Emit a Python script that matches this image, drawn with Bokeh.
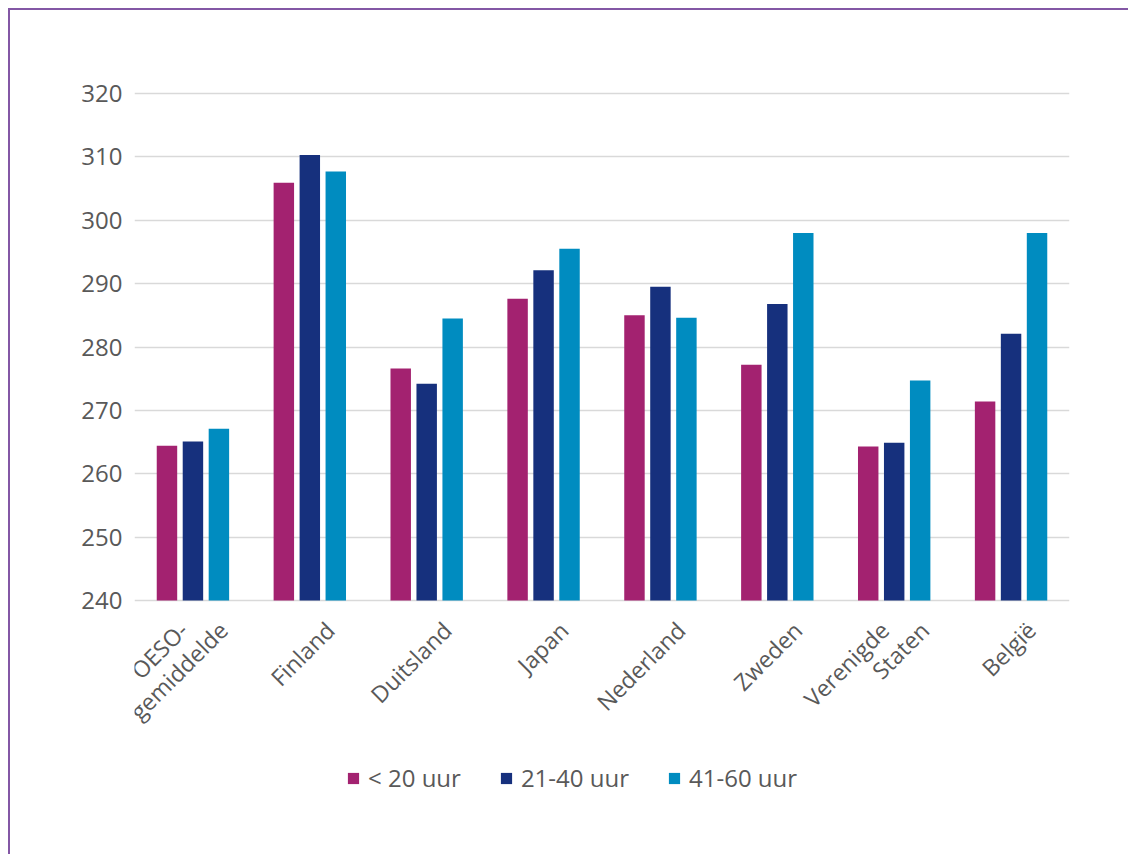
from math import pi
from bokeh.plotting import figure
from bokeh.models import ColumnDataSource, FactorRange, Range1d, Legend, LegendItem, Label, SingleIntervalTicker
from bokeh.transform import dodge
from bokeh.embed import file_html
from bokeh.resources import INLINE

categories = ["OESO-\ngemiddelde", "Finland", "Duitsland", "Japan", "Nederland", "Zweden", "Verenigde\nStaten", "België"]
series_names = ["< 20 uur", "21-40 uur", "41-60 uur"]
lt20 = [264.4, 305.9, 276.6, 287.6, 285.0, 277.2, 264.3, 271.4]
h21_40 = [265.1, 310.3, 274.2, 292.1, 289.5, 286.8, 264.9, 282.1]
h41_60 = [267.1, 307.7, 284.5, 295.5, 284.6, 298.0, 274.7, 298.0]
colors = ["#A32270", "#16307D", "#008CC0"]
y_min, y_max, y_step = 240, 320, 10

FONT = "Open Sans"
TEXT = "#595959"
GRID = "#d9d9d9"

# layout (pixels): value axis from y_min at 590px to y_max at 83px below the plot's top
PX_PER_UNIT = 507 / (y_max - y_min)
TOP_PAD_PX = 83
BOTTOM_PAD_PX = 846 - 590

src = ColumnDataSource(dict(cat=categories, a=lt20, b=h21_40, c=h41_60))

p = figure(width=1120, height=846, x_range=FactorRange(*categories, range_padding=0, factor_padding=0),
           y_range=Range1d(y_min - BOTTOM_PAD_PX / PX_PER_UNIT, y_max + TOP_PAD_PX / PX_PER_UNIT),
           x_axis_location=None, output_backend="svg", toolbar_location=None,
           min_border_left=124, min_border_right=61, min_border_top=0, min_border_bottom=0)
p.styles = {"border-left": "2px solid #8357a5", "border-top": "2px solid #8357a5",
            "margin-left": "8px", "margin-top": "8px"}
p.outline_line_color = None
p.background_fill_color = "white"
p.border_fill_color = "white"

p.xgrid.grid_line_color = None
p.ygrid.grid_line_color = GRID
p.ygrid.grid_line_width = 1.5
p.yaxis.bounds = (y_min, y_max)
p.yaxis.ticker = SingleIntervalTicker(interval=y_step)
p.yaxis.axis_line_color = None
p.yaxis.major_tick_line_color = None
p.yaxis.major_tick_out = 0
p.yaxis.major_tick_in = 0
p.yaxis.minor_tick_line_color = None
p.yaxis.major_label_standoff = 8
p.yaxis.major_label_text_font = FONT
p.yaxis.major_label_text_font_size = "24px"
p.yaxis.major_label_text_color = TEXT

offs = [-0.2222, 0.0, 0.2222]
renderers = []
for col, off, color in zip(["a", "b", "c"], offs, colors):
    r = p.vbar(x=dodge("cat", off, range=p.x_range), top=col, bottom=y_min, width=0.175, source=src,
               fill_color=color, line_color=None)
    renderers.append(r)

# category labels (rotated); category k is centred at k + 0.5 on the factor range
ybox = y_min - 14 / PX_PER_UNIT
for k, cat in enumerate(categories):
    lines = cat.split("\n")
    n = len(lines)
    for i, line in enumerate(lines):
        p.add_layout(Label(x=k + 0.5, y=ybox, x_offset=9 + 40 * i - 30 * (n - 1), text=line, angle=pi / 4,
                           text_align="right", text_baseline="top", text_font=FONT,
                           text_font_size="23px", text_color=TEXT))

legend = Legend(items=[LegendItem(label=nm, renderers=[r]) for nm, r in zip(series_names, renderers)],
                orientation="horizontal", location=(212, 62), glyph_width=14, glyph_height=14,
                label_standoff=8, spacing=38, padding=0, margin=0, border_line_color=None,
                background_fill_alpha=0, label_text_font=FONT, label_text_font_size="24px",
                label_text_color=TEXT)
p.add_layout(legend)

open("out.html", "w").write(file_html(p, INLINE))
